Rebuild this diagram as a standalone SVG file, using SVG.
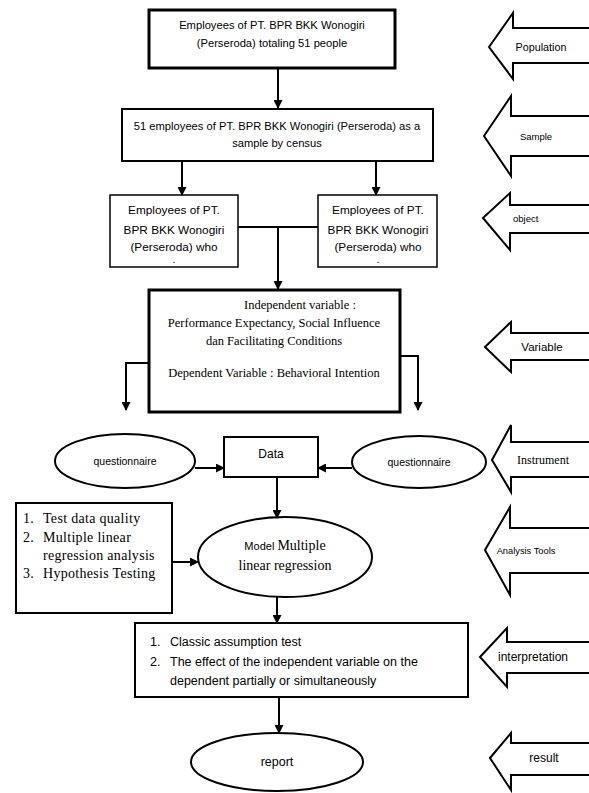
<svg xmlns="http://www.w3.org/2000/svg" width="589" height="793" viewBox="0 0 589 793">
<style>
.bg{fill:#fff}
.box{fill:#fff;stroke:#000}
.sans{font-family:"Liberation Sans",Arial,sans-serif;font-size:11.2px;fill:#000}
.serif{font-family:"Liberation Serif","Times New Roman",serif;font-size:12.5px;fill:#000}
.list{font-family:"Liberation Serif","Times New Roman",serif;font-size:14px;letter-spacing:0.3px;fill:#000}
.c{text-anchor:middle}
.conn{fill:none;stroke:#000;stroke-width:2}
.blk{fill:#fff;stroke:#000;stroke-width:2;stroke-linejoin:miter}
</style>
<defs>
<marker id="ah" markerUnits="userSpaceOnUse" markerWidth="9" markerHeight="9" refX="8" refY="4.5" orient="auto">
<path d="M0,0 L9,4.5 L0,9 z" fill="#000"/>
</marker>
</defs>
<rect class="bg" x="0" y="0" width="589" height="793"/>

<g id="population-box">
<rect class="box" x="149" y="10" width="246" height="58" stroke-width="3"/>
<text class="sans c" x="272" y="29">Employees of PT. BPR BKK Wonogiri</text>
<text class="sans c" x="272" y="47">(Perseroda) totaling 51 people</text>
</g>

<g id="sample-box">
<rect class="box" x="122" y="109" width="311" height="52" stroke-width="2"/>
<text class="sans c" x="277" y="130">51 employees of PT. BPR BKK Wonogiri (Perseroda) as a</text>
<text class="sans c" x="277" y="147">sample by census</text>
</g>

<g id="object-left">
<rect class="box" x="110" y="195" width="128" height="72" stroke-width="1.5"/>
<text class="sans c" x="174" y="214" style="font-size:11.8px">Employees of PT.</text>
<text class="sans c" x="174" y="234" style="font-size:11.8px">BPR BKK Wonogiri</text>
<text class="sans c" x="174" y="251" style="font-size:11.8px">(Perseroda) who</text>
<text class="sans c" x="174" y="263">.</text>
</g>

<g id="object-right">
<rect class="box" x="318" y="195" width="119" height="72" stroke-width="1.5"/>
<text class="sans c" x="378" y="214" style="font-size:11.8px">Employees of PT.</text>
<text class="sans c" x="378" y="234" style="font-size:11.8px">BPR BKK Wonogiri</text>
<text class="sans c" x="378" y="251" style="font-size:11.8px">(Perseroda) who</text>
<text class="sans c" x="378" y="263">.</text>
</g>

<g id="variable-box">
<rect class="box" x="149" y="290" width="251" height="122" stroke-width="3"/>
<text class="serif c" x="300" y="309">Independent variable :</text>
<text class="serif c" x="274" y="327">Performance Expectancy, Social Influence</text>
<text class="serif c" x="274" y="345">dan Facilitating Conditions</text>
<text class="serif c" x="274" y="377">Dependent Variable : Behavioral Intention</text>
</g>

<g id="questionnaire-left">
<ellipse class="box" cx="125" cy="461" rx="70" ry="27" stroke-width="2"/>
<text class="sans c" x="125" y="465" style="font-size:10.5px">questionnaire</text>
</g>

<g id="data-box">
<rect class="box" x="224" y="437" width="94" height="40" stroke-width="2"/>
<text class="sans c" x="271" y="458" style="font-size:12px">Data</text>
</g>

<g id="questionnaire-right">
<ellipse class="box" cx="419" cy="462" rx="67" ry="26" stroke-width="2"/>
<text class="sans c" x="419" y="466" style="font-size:10.5px">questionnaire</text>
</g>

<g id="analysis-list">
<rect class="box" x="16" y="503" width="156" height="110" stroke-width="2"/>
<text class="list" x="23" y="523">1.</text>
<text class="list" x="43" y="523">Test data quality</text>
<text class="list" x="23" y="542">2.</text>
<text class="list" x="43" y="542">Multiple linear</text>
<text class="list" x="43" y="560">regression analysis</text>
<text class="list" x="23" y="578">3.</text>
<text class="list" x="43" y="578">Hypothesis Testing</text>
</g>

<g id="model-ellipse">
<ellipse class="box" cx="285" cy="557" rx="87" ry="40" stroke-width="2"/>
<text class="c" x="285" y="550"><tspan class="sans" fill="#555" style="font-size:11px">Model </tspan><tspan class="serif" style="font-size:14px">Multiple</tspan></text>
<text class="serif c" x="285" y="570" style="font-size:14px">linear regression</text>
</g>

<g id="interpretation-box">
<rect class="box" x="135" y="623" width="333" height="74" stroke-width="2"/>
<text class="sans" x="150" y="646" style="font-size:12.5px">1.</text>
<text class="sans" x="170" y="646" style="font-size:12.5px">Classic assumption test</text>
<text class="sans" x="150" y="666" style="font-size:12.5px">2.</text>
<text class="sans" x="170" y="666" style="font-size:12.5px">The effect of the independent variable on the</text>
<text class="sans" x="170" y="685" style="font-size:12.5px">dependent partially or simultaneously</text>
</g>

<g id="report-ellipse">
<ellipse class="box" cx="277" cy="762" rx="86" ry="29" stroke-width="2"/>
<text class="sans c" x="277" y="766" style="font-size:12.5px">report</text>
</g>

<g id="connectors">
<line class="conn" x1="278" y1="68" x2="278" y2="108" marker-end="url(#ah)"/>
<line class="conn" x1="182" y1="161" x2="182" y2="195" marker-end="url(#ah)"/>
<line class="conn" x1="376" y1="161" x2="376" y2="195" marker-end="url(#ah)"/>
<line class="conn" x1="238" y1="227" x2="318" y2="227"/>
<line class="conn" x1="278" y1="227" x2="278" y2="289" marker-end="url(#ah)"/>
<polyline class="conn" points="149,363 126,363 126,410" marker-end="url(#ah)"/>
<polyline class="conn" points="400,356 418,356 418,410" marker-end="url(#ah)"/>
<line class="conn" x1="195" y1="468" x2="224" y2="468" marker-end="url(#ah)"/>
<line class="conn" x1="352" y1="468" x2="318" y2="468" marker-end="url(#ah)"/>
<line class="conn" x1="277" y1="477" x2="277" y2="518" marker-end="url(#ah)"/>
<line class="conn" x1="172" y1="562" x2="198" y2="562" marker-end="url(#ah)"/>
<line class="conn" x1="277" y1="597" x2="277" y2="623" marker-end="url(#ah)"/>
<line class="conn" x1="279" y1="697" x2="279" y2="733" marker-end="url(#ah)"/>
</g>

<g id="label-population">
<polygon class="blk" points="489,47 513,13 513,28 592,28 592,63 513,63 513,79"/>
<text class="sans c" x="541" y="51" style="font-size:10.8px">Population</text>
</g>
<g id="label-sample">
<polygon class="blk" points="484,136 511,96 511,116 592,116 592,156 511,156 511,176"/>
<text class="sans c" x="536" y="140" style="font-size:9.5px">Sample</text>
</g>
<g id="label-object">
<polygon class="blk" points="483,218 510,193 510,205 592,205 592,233 510,233 510,250"/>
<text class="sans" x="513" y="222" style="font-size:9.5px">object</text>
</g>
<g id="label-variable">
<polygon class="blk" points="485,347 511,322 511,333 592,333 592,360 511,360 511,372"/>
<text class="sans c" x="542" y="351" style="font-size:11.5px">Variable</text>
</g>
<g id="label-instrument">
<polygon class="blk" points="492,460 511,425 511,442 592,442 592,477 511,477 511,492"/>
<text class="serif c" x="543" y="464" style="font-size:12px">Instrument</text>
</g>
<g id="label-analysis">
<polygon class="blk" points="485,550 510,507 510,528 592,528 592,573 510,573 510,595"/>
<text class="sans c" x="526" y="554" style="font-size:9.3px">Analysis Tools</text>
</g>
<g id="label-interpretation">
<polygon class="blk" points="480,657 507,628 507,642 592,642 592,673 507,673 507,687"/>
<text class="sans c" x="533" y="661" style="font-size:12px">interpretation</text>
</g>
<g id="label-result">
<polygon class="blk" points="490,758 511,733 511,743 592,743 592,775 511,775 511,790"/>
<text class="sans c" x="544" y="762" style="font-size:12px">result</text>
</g>
</svg>
